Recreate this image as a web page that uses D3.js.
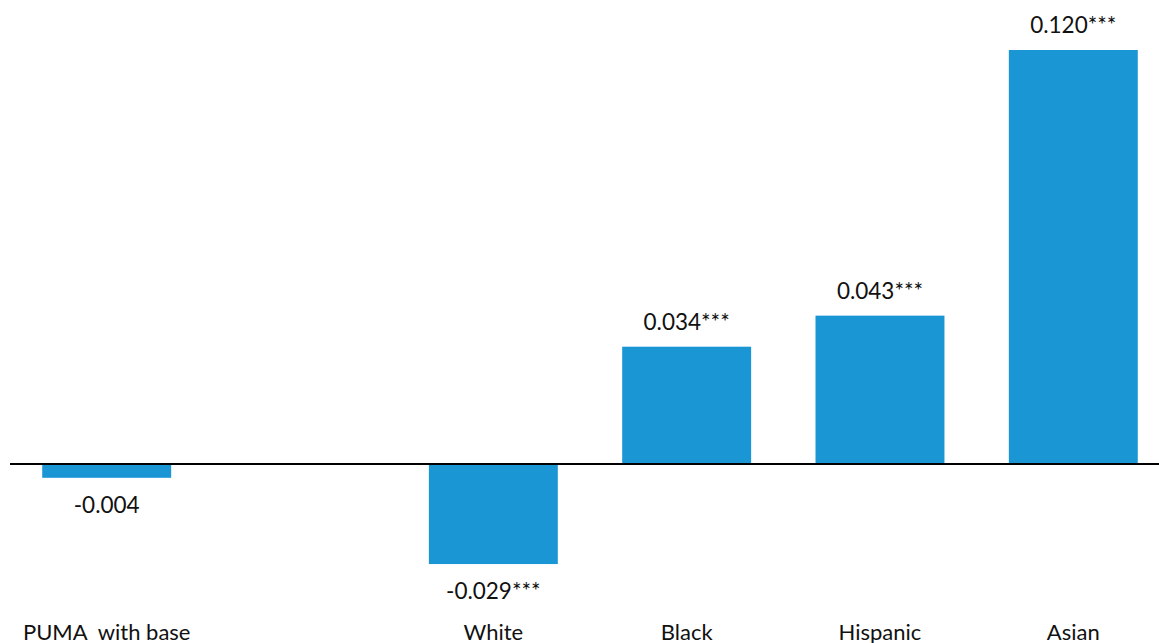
<!DOCTYPE html>
<html>
<head>
<meta charset="utf-8">
<script src="https://cdn.jsdelivr.net/npm/d3@7"></script>
<style>
  body { margin: 0; background: #fff; overflow: hidden; }
  text { font-family: Lato, "Open Sans", sans-serif; fill: #111; }
</style>
</head>
<body>
<div id="chart"></div>
<script>
// data
const categories = ["PUMA  with base", "", "White", "Black", "Hispanic", "Asian"];
const values = [-0.004, null, -0.029, 0.034, 0.043, 0.120];
const stars = ["", "", "***", "***", "***", "***"];

const width = 1159, height = 643;

const svg = d3.select("#chart").append("svg")
    .attr("width", width)
    .attr("height", height);

// x scale
const x = d3.scaleBand()
    .domain(d3.range(categories.length))
    .range([10, 1170])
    .paddingInner(0.333)
    .paddingOuter(0.1667);

// y scale
const y = d3.scaleLinear()
    .domain([-0.04, 0.12])
    .range([602, 50]);

const data = categories.map((c, i) => ({i: i, cat: c, v: values[i], s: stars[i]}));
const bars = data.filter(d => d.v !== null);

// bars
svg.selectAll(".bar")
    .data(bars)
    .enter()
    .append("rect")
    .attr("class", "bar")
    .attr("x", d => x(d.i))
    .attr("width", x.bandwidth())
    .attr("y", d => y(Math.max(0, d.v)))
    .attr("height", d => Math.abs(y(d.v) - y(0)))
    .attr("fill", "#1a96d4");

// zero line
svg.append("line")
    .attr("x1", 10)
    .attr("x2", width)
    .attr("y1", y(0))
    .attr("y2", y(0))
    .attr("stroke", "#000")
    .attr("stroke-width", 2);

// value labels
svg.selectAll(".val")
    .data(bars)
    .enter()
    .append("text")
    .attr("class", "val")
    .attr("text-anchor", "middle")
    .attr("font-size", 22.5)
    .attr("x", d => x(d.i) + x.bandwidth() / 2)
    .attr("y", d => d.v >= 0 ? y(d.v) - 17 : y(d.v) + 35)
    .text(d => d.v.toFixed(3) + d.s);

// category labels
svg.selectAll(".cat")
    .data(data)
    .enter()
    .append("text")
    .attr("class", "cat")
    .attr("text-anchor", "middle")
    .attr("font-size", 22)
    .attr("x", d => x(d.i) + x.bandwidth() / 2)
    .attr("y", 640)
    .style("white-space", "pre")
    .text(d => d.cat);
</script>
</body>
</html>
